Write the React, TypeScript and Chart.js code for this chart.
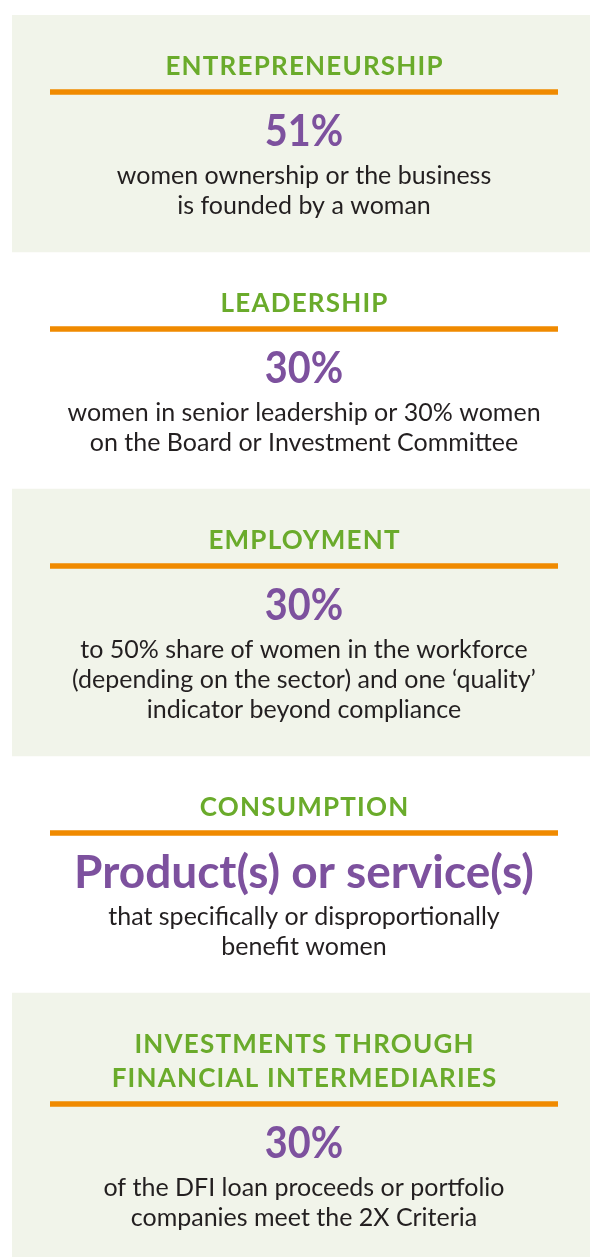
import React, { useEffect, useRef } from "react";
import { Chart, registerables } from "chart.js";

Chart.register(...registerables);

// ---- data ----
const categories: string[][] = [
  ["ENTREPRENEURSHIP"],
  ["LEADERSHIP"],
  ["EMPLOYMENT"],
  ["CONSUMPTION"],
  ["INVESTMENTS THROUGH", "FINANCIAL INTERMEDIARIES"],
];
const headlines: string[] = ["51%", "30%", "30%", "Product(s) or service(s)", "30%"];
const descriptions: string[][] = [
  ["women ownership or the business", "is founded by a woman"],
  ["women in senior leadership or 30% women", "on the Board or Investment Committee"],
  [
    "to 50% share of women in the workforce",
    "(depending on the sector) and one \u2018quality\u2019",
    "indicator beyond compliance",
  ],
  ["that specifically or disproportionally", "benefit women"],
  ["of the DFI loan proceeds or portfolio", "companies meet the 2X Criteria"],
];
const shaded: boolean[] = [true, false, true, false, true];

// ---- styles / layout ----
const BG = "#f1f4ea";
const GREEN = "#6aab2b";
const ORANGE = "#f08a00";
const PURPLE = "#7d519e";
const TEXT = "#231f20";
const FONT = "Lato, 'Open Sans', sans-serif";

const TITLE_BASE = 60;
const TITLE_LH = 34;
const RULE_Y = 77;
const VALUE_BASE = 131;
const DESC_BASE = 169;
const DESC_LH = 30;
const PANEL_BASE_H = 237;
const VISIBLE = 1242;

function panelHeight(i: number) {
  return (
    PANEL_BASE_H +
    (categories[i].length - 1) * TITLE_LH +
    (descriptions[i].length - 2) * DESC_LH
  );
}

function panelExtents(): [number, number][] {
  const out: [number, number][] = [];
  let s = 0;
  for (let i = 0; i < categories.length; i++) {
    const h = panelHeight(i);
    out.push([s, s + h]);
    s += h;
  }
  return out;
}

function fillSqueezed(ctx: CanvasRenderingContext2D, t: string, x: number, y: number, k: number) {
  const w = ctx.measureText(t).width;
  ctx.fillText(t, x, y, w * k);
}

const textPlugin = {
  id: "panelText",
  afterDatasetsDraw(chart: any) {
    const ctx: CanvasRenderingContext2D = chart.ctx;
    const ys = chart.scales.y;
    const area = chart.chartArea;
    const ruleL = area.left + 38;
    const ruleR = area.right - 32;
    const cx = (ruleL + ruleR) / 2;
    const ext = panelExtents();
    ctx.save();
    ctx.textAlign = "center";
    ctx.textBaseline = "alphabetic";
    ext.forEach(([start], i) => {
      const px = (v: number) => ys.getPixelForValue(start + v);
      const extraT = (categories[i].length - 1) * TITLE_LH;
      // titles
      ctx.fillStyle = GREEN;
      ctx.font = `bold 26px ${FONT}`;
      (ctx as any).letterSpacing = "1.2px";
      categories[i].forEach((line, k) => {
        fillSqueezed(ctx, line, cx + 0.6, px(TITLE_BASE + k * TITLE_LH), 1);
      });
      (ctx as any).letterSpacing = "0px";
      // rule
      ctx.fillStyle = ORANGE;
      const ry = px(RULE_Y + extraT);
      ctx.fillRect(ruleL, ry - 2.75, ruleR - ruleL, 5.5);
      // headline
      ctx.fillStyle = PURPLE;
      const isLong = headlines[i].length > 6;
      ctx.font = `bold ${isLong ? 46 : 44}px ${FONT}`;
      fillSqueezed(ctx, headlines[i], cx, px(VALUE_BASE + extraT + (isLong ? 1 : 0)), isLong ? 1 : 0.9);
      // description
      ctx.fillStyle = TEXT;
      ctx.font = `25px ${FONT}`;
      descriptions[i].forEach((line, k) => {
        fillSqueezed(ctx, line, cx, px(DESC_BASE + extraT + k * DESC_LH), 1);
      });
    });
    ctx.restore();
  },
};

export default function App() {
  const ref = useRef<HTMLCanvasElement | null>(null);
  useEffect(() => {
    document.body.style.margin = "0";
    const ext = panelExtents();
    const chart = new Chart(ref.current as HTMLCanvasElement, {
      type: "bar",
      data: {
        labels: [""],
        datasets: categories.map((c, i) => ({
          label: c.join(" "),
          data: [ext[i]] as any,
          backgroundColor: shaded[i] ? BG : "rgba(0,0,0,0)",
          borderWidth: 0,
          barPercentage: 1,
          categoryPercentage: 1,
          grouped: false,
        })),
      },
      options: {
        responsive: false,
        animation: false,
        devicePixelRatio: 1,
        layout: { padding: { left: 12, top: 15, right: 0, bottom: 0 } },
        plugins: { legend: { display: false }, tooltip: { enabled: false } },
        scales: {
          x: { display: false },
          y: { display: false, reverse: true, min: 0, max: VISIBLE },
        },
      },
      plugins: [textPlugin],
    });
    const fonts = (document as any).fonts;
    if (fonts && fonts.load) {
      Promise.all([fonts.load(`bold 26px Lato`), fonts.load(`25px Lato`)]).then(() => chart.draw());
    }
    return () => chart.destroy();
  }, []);
  return (
    <div style={{ position: "absolute", left: 0, top: 0, width: 590, height: 1257 }}>
      <canvas ref={ref} width={590} height={1257} />
    </div>
  );
}
